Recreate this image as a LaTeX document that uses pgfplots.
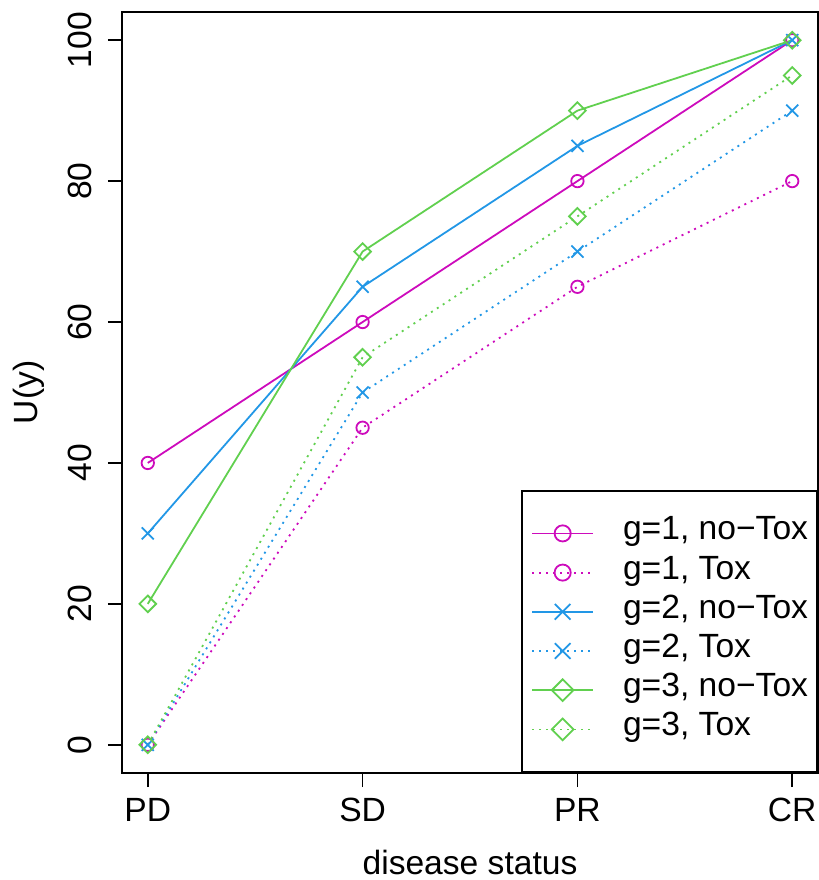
\documentclass[border=0pt]{standalone}
\usepackage{fontspec}
\setmainfont{Liberation Sans}
\usepackage{pgfplots}
\pgfplotsset{compat=1.18}
\definecolor{rmag}{HTML}{CD0BBC}
\definecolor{rblue}{HTML}{2297E6}
\definecolor{rgreen}{HTML}{61D04F}

\begin{document}
\fontsize{16.8pt}{20pt}\selectfont
\begin{tikzpicture}
\path[use as bounding box] (0,0) rectangle (409.5pt,440pt);
\begin{axis}[
  at={(61pt,53.5pt)}, anchor=south west,
  scale only axis, width=348pt, height=380.5pt,
  xmin=0.88, xmax=4.12, ymin=-4, ymax=104,
  xtick={1,2,3,4}, xticklabels={PD,SD,PR,CR},
  ytick={0,20,...,100},
  xtick pos=left, ytick pos=left,
  tick align=outside, major tick length=7pt,
  tick style={black, line width=0.8pt},
  axis line style={line width=1pt},
  xticklabel style={anchor=north, inner sep=0pt, yshift=-5.5pt},
  yticklabel style={rotate=90, anchor=south, inner sep=0pt, yshift=8pt},
  ticklabel style={font=\fontsize{16.8pt}{20pt}\selectfont},
  xlabel={disease status},
  ylabel={U(y)},
  label style={font=\fontsize{16.8pt}{20pt}\selectfont},
  xlabel style={at={(axis description cs:0.5,-0.134)}, anchor=base, inner sep=0pt},
  ylabel style={at={(axis description cs:-0.1221,0.5)}, rotate=0, anchor=base, inner sep=0pt},
  /pgf/number format/assume math mode=true,
  legend style={at={(1,0)}, anchor=south east, draw=black, line width=1pt,
    font=\fontsize{16.8pt}{20pt}\selectfont,
    inner xsep=4.5pt, inner ysep=11.5pt, row sep=0pt,
    nodes={inner sep=0pt, text height=13pt, text depth=6.6pt},
    /tikz/every odd column/.append style={column sep=14.5pt}},
  legend cell align=left,
  legend image code/.code={
    \draw[mark repeat=2, mark phase=2, mark size=1.3*\pgfplotmarksize]
      plot coordinates {(0pt,0pt) (15.25pt,0pt) (30.5pt,0pt)};},
  every axis plot/.append style={line width=0.9pt},
]
\addplot[rmag, mark=o, mark size=3.1pt] coordinates {(1,40)(2,60)(3,80)(4,100)};
\addplot[rmag, mark=o, mark size=3.1pt, dash pattern=on 1pt off 2.5pt, mark options={solid}] coordinates {(1,0)(2,45)(3,65)(4,80)};
\addplot[rblue, mark=x, mark size=4.25pt] coordinates {(1,30)(2,65)(3,85)(4,100)};
\addplot[rblue, mark=x, mark size=4.25pt, dash pattern=on 1pt off 2.5pt, mark options={solid}] coordinates {(1,0)(2,50)(3,70)(4,90)};
\addplot[rgreen, mark=square, mark size=2.95pt, mark options={rotate=45}] coordinates {(1,20)(2,70)(3,90)(4,100)};
\addplot[rgreen, mark=square, mark size=2.95pt, dash pattern=on 1pt off 2.5pt, mark options={solid, rotate=45}] coordinates {(1,0)(2,55)(3,75)(4,95)};
\legend{g=1{,} no−Tox, g=1{,} Tox, g=2{,} no−Tox, g=2{,} Tox, g=3{,} no−Tox, g=3{,} Tox}
\end{axis}
\end{tikzpicture}
\end{document}
